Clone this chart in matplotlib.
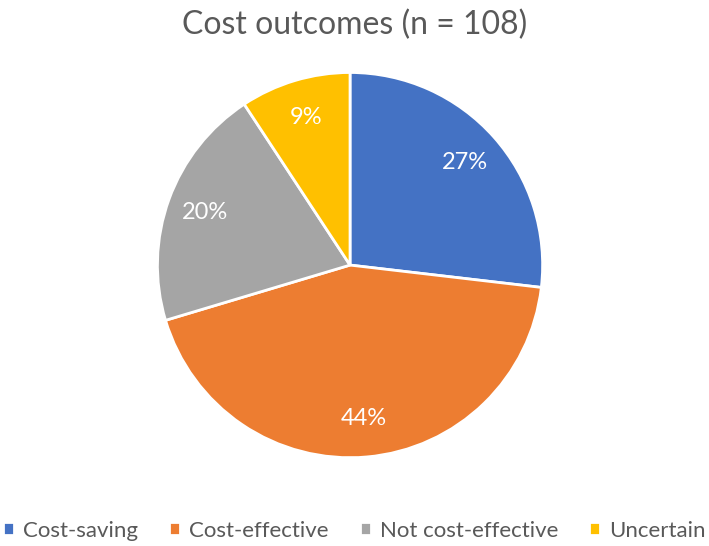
import matplotlib.pyplot as plt

plt.rcParams['font.family'] = ['Lato', 'DejaVu Sans']

labels = ['Cost-saving', 'Cost-effective', 'Not cost-effective', 'Uncertain']
counts = [29, 47, 22, 10]
colors = ['#4472C4', '#ED7D31', '#A5A5A5', '#FFC000']

fig = plt.figure(figsize=(7.09, 5.46), dpi=100)
ax = fig.add_axes([0.2207, 0.160, 0.546, 0.709])

wedges, texts, autotexts = ax.pie(counts, colors=colors, startangle=90, counterclock=False,
                                  autopct='%1.0f%%', pctdistance=0.8,
                                  wedgeprops=dict(edgecolor='white', linewidth=2),
                                  textprops=dict(color='white', fontsize=17))
ax.set_xlim(-1.005, 1.005)
ax.set_ylim(-1.005, 1.005)
ax.set_aspect('equal')

fig.text(0.5, 0.955, 'Cost outcomes (n = 108)', ha='center', va='center',
         fontsize=23, color='#595959')

fig.legend(wedges, labels, loc='center', bbox_to_anchor=(0.5, 0.028), ncol=4,
           frameon=False, fontsize=16, labelcolor='#595959', borderpad=0, borderaxespad=0,
           handlelength=0.5, handleheight=0.5, handletextpad=0.4, columnspacing=1.4)

plt.savefig('out.png', dpi=100)
